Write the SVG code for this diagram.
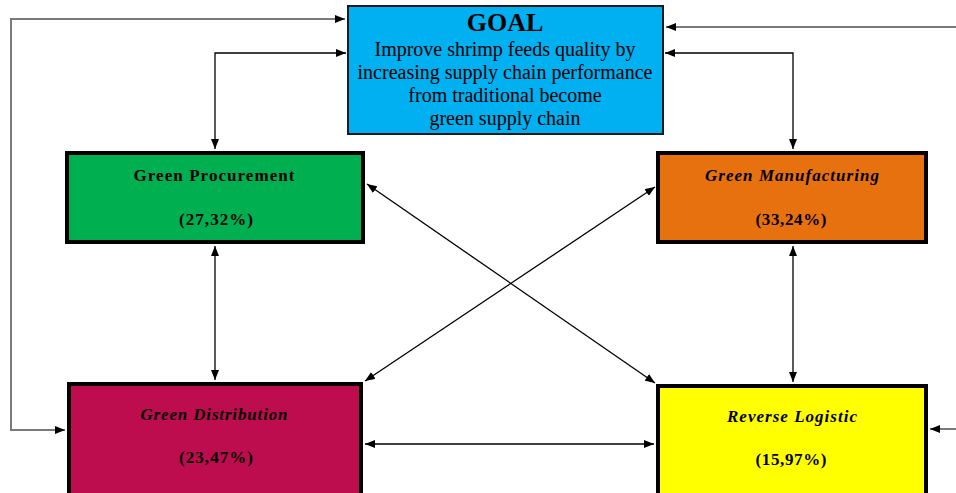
<svg xmlns="http://www.w3.org/2000/svg" width="956" height="493" viewBox="0 0 956 493">
<style>
.box{stroke:#000;stroke-width:4}
.lbl{font-family:"Liberation Serif","Times New Roman",serif;font-size:17px;font-weight:bold;fill:#000;text-anchor:middle}
.it{font-style:italic}
.body{font-family:"Liberation Serif","Times New Roman",serif;font-size:20px;fill:#000;text-anchor:middle}
.c{fill:none;stroke:#000;stroke-width:1.3;marker-start:url(#a);marker-end:url(#a)}
.g{fill:none;stroke:#7a7a7a;stroke-width:2;marker-start:url(#a);marker-end:url(#a)}
</style>
<defs>
<marker id="a" viewBox="0 0 10 8" refX="10" refY="4" markerWidth="10" markerHeight="8" markerUnits="userSpaceOnUse" orient="auto-start-reverse">
<path d="M0,0 L10,4 L0,8 Z" fill="#000"/>
</marker>
</defs>
<g id="connectors">
<path class="c" d="M215 149 V53 H346"/>
<path class="c" d="M793 149 V53 H665"/>
<path class="c" d="M215 246 V380"/>
<path class="c" d="M793 246 V382"/>
<path class="c" d="M365 444 H654"/>
<path class="c" d="M367 184 L655 383"/>
<path class="c" d="M655 187 L365 381"/>
<path class="g" d="M65 430 H11 V19 H345"/>
<path class="g" d="M930 429 H962 V27 H666"/>
</g>
<g id="goal">
<rect x="348" y="6" width="315" height="128" fill="#00B0F0" stroke="#1a1a1a" stroke-width="2"/>
<text x="505" y="31" font-family="Liberation Serif, Times New Roman, serif" font-size="26" font-weight="bold" text-anchor="middle">GOAL</text>
<text class="body" x="505" y="56">Improve shrimp feeds quality by</text>
<text class="body" x="505" y="79">increasing supply chain performance</text>
<text class="body" x="505" y="102">from traditional become</text>
<text class="body" x="505" y="125">green supply chain</text>
</g>
<g id="green-procurement">
<rect class="box" x="67" y="153" width="296" height="89" fill="#00B050"/>
<text class="lbl" x="214" y="181" textLength="161" lengthAdjust="spacing">Green Procurement</text>
<text class="lbl" x="216" y="225" textLength="74" lengthAdjust="spacing">(27,32%)</text>
</g>
<g id="green-manufacturing">
<rect class="box" x="658" y="153" width="268" height="89" fill="#E8710F"/>
<text class="lbl it" x="792" y="181" textLength="174" lengthAdjust="spacing">Green Manufacturing</text>
<text class="lbl" x="791" y="225" textLength="71" lengthAdjust="spacing">(33,24%)</text>
</g>
<g id="green-distribution">
<rect class="box" x="69" y="384" width="292" height="125" fill="#BE0D4E"/>
<text class="lbl it" x="214" y="420" textLength="147" lengthAdjust="spacing">Green Distribution</text>
<text class="lbl" x="216" y="463" textLength="74" lengthAdjust="spacing">(23,47%)</text>
</g>
<g id="reverse-logistic">
<rect class="box" x="658" y="386" width="268" height="125" fill="#FFFF00"/>
<text class="lbl it" x="792" y="422" textLength="130" lengthAdjust="spacing">Reverse Logistic</text>
<text class="lbl" x="791" y="465" textLength="71" lengthAdjust="spacing">(15,97%)</text>
</g>
</svg>
